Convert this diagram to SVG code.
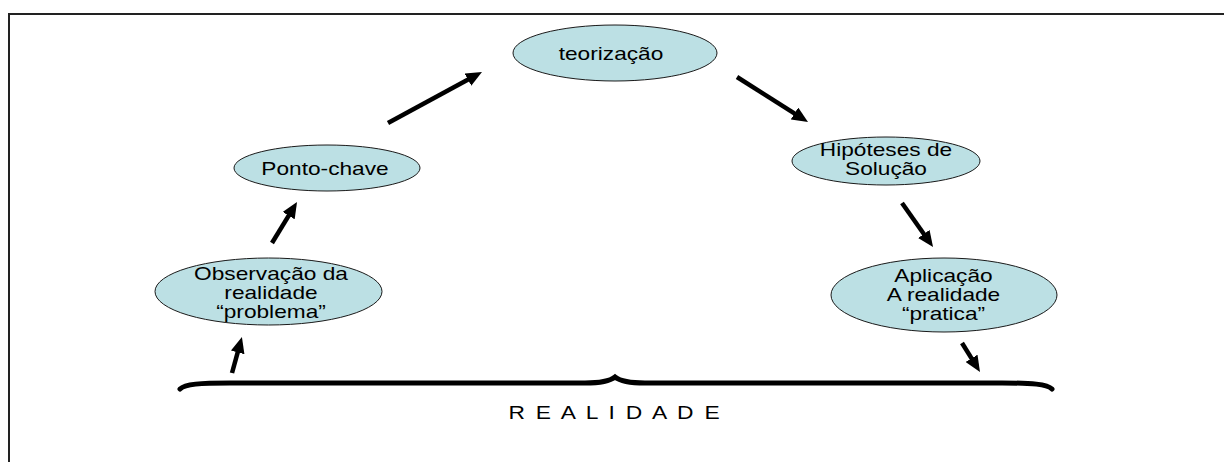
<svg xmlns="http://www.w3.org/2000/svg" width="1224" height="462" viewBox="0 0 1224 462">
<style>
.node ellipse{fill:#BCE0E4;stroke:#1a1a1a;stroke-width:1}
.lbl{font-family:"Liberation Sans",Arial,sans-serif;font-size:18px;fill:#000;text-anchor:middle}
.conn line{stroke:#000;stroke-width:4.5;marker-end:url(#ah)}
</style>
<defs>
<marker id="ah" markerUnits="userSpaceOnUse" markerWidth="16" markerHeight="14" refX="5" refY="7" orient="auto">
<path d="M0,0 L16,7 L0,14 z" fill="#000"/>
</marker>
</defs>
<rect width="1224" height="462" fill="#fff"/>
<path d="M9,462 V14 H1224" fill="none" stroke="#222" stroke-width="2"/>

<g id="teorizacao" class="node">
<ellipse cx="615" cy="53" rx="102" ry="28"/>
<text class="lbl" transform="translate(611,60) scale(1.26,1)">teorização</text>
</g>
<g id="ponto-chave" class="node">
<ellipse cx="327" cy="168" rx="93" ry="23"/>
<text class="lbl" transform="translate(325,174.5) scale(1.26,1)">Ponto-chave</text>
</g>
<g id="observacao" class="node">
<ellipse cx="268.5" cy="291.5" rx="113.5" ry="33.5"/>
<g transform="translate(271,0) scale(1.26,1)">
<text class="lbl" x="0" y="280">Observação da</text>
<text class="lbl" x="0" y="299">realidade</text>
<text class="lbl" x="0" y="318">“problema”</text>
</g>
</g>
<g id="hipoteses" class="node">
<ellipse cx="886" cy="161" rx="94" ry="24"/>
<g transform="translate(886,0) scale(1.26,1)">
<text class="lbl" x="0" y="156">Hipóteses de</text>
<text class="lbl" x="0" y="175">Solução</text>
</g>
</g>
<g id="aplicacao" class="node">
<ellipse cx="944" cy="295" rx="113" ry="37"/>
<g transform="translate(943.5,0) scale(1.26,1)">
<text class="lbl" x="0" y="282">Aplicação</text>
<text class="lbl" x="0" y="301">A realidade</text>
<text class="lbl" x="0" y="320">“pratica”</text>
</g>
</g>

<g id="realidade">
<path d="M180,389 C185,384 200,383 230,383 L585,383 C600,383 610,381 615,377 C620,381 630,383 645,383 L1002,383 C1032,383 1047,384 1052,389" fill="none" stroke="#000" stroke-width="5" stroke-linecap="round"/>
<text class="lbl" style="font-size:19px" transform="translate(614,419) scale(1.2,1)" textLength="176" lengthAdjust="spacing">R E A L I D A D E</text>
</g>

<g id="connectors" class="conn">
<line x1="388" y1="123" x2="472.3" y2="77.3"/>
<line x1="737" y1="77" x2="798.7" y2="116.1"/>
<line x1="272" y1="243" x2="291.3" y2="211.4"/>
<line x1="232" y1="373" x2="239" y2="347.6"/>
<line x1="902" y1="203" x2="926.7" y2="238"/>
<line x1="962" y1="343" x2="974.2" y2="362.6"/>
</g>
</svg>
